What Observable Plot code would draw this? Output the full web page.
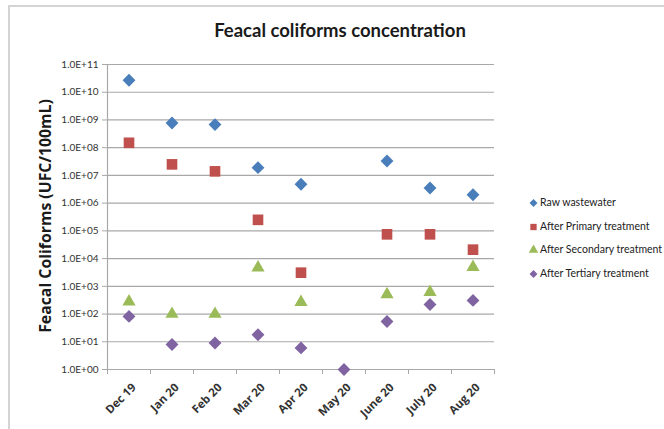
<!DOCTYPE html>
<html>
<head>
<meta charset="utf-8">
<script src="https://cdn.jsdelivr.net/npm/d3@7"></script>
<script src="https://cdn.jsdelivr.net/npm/@observablehq/plot@0.6"></script>
<style>
  html, body { margin: 0; padding: 0; background: #fff; }
  #wrap { position: relative; width: 664px; height: 429px; overflow: hidden; font-family: Lato, "Liberation Sans", sans-serif; }
  #frame { position: absolute; left: 8px; top: 5px; width: 700px; height: 500px; border-top: 2px solid #d4d4d4; border-left: 2px solid #d4d4d4; }
  #chart { position: absolute; left: 0; top: 0; }
  #title { position: absolute; left: 0; width: 680px; top: 19px; text-align: center; font-weight: bold; font-size: 18.5px; color: #1a1a1a; }
  #ylabel { position: absolute; left: 45px; top: 216px; transform: translate(-50%, -50%) rotate(-90deg); white-space: nowrap; font-family: "Open Sans", sans-serif; font-weight: bold; font-size: 15.8px; color: #1a1a1a; }
  #legend { position: absolute; left: 529px; top: 196px; font-size: 10.5px; color: #222; }
  #legend .row { height: 23.7px; display: flex; align-items: flex-start; }
  #legend svg { margin-right: 2px; margin-top: 2px; }
</style>
</head>
<body>
<div id="wrap">
  <div id="frame"></div>
  <div id="chart"></div>
  <div id="title">Feacal coliforms concentration</div>
  <div id="ylabel">Feacal Coliforms (UFC/100mL)</div>
  <div id="legend"></div>
</div>
<script>
const categories = ["Dec 19", "Jan 20", "Feb 20", "Mar 20", "Apr 20", "May 20", "June 20", "July 20", "Aug 20"];
const rawWastewater = [2.7e10, 7.8e8, 6.8e8, 1.9e7, 4.8e6, null, 3.3e7, 3.5e6, 2.0e6];
const afterPrimary = [1.5e8, 2.5e7, 1.4e7, 2.5e5, 3.1e3, null, 7.5e4, 7.5e4, 2.1e4];
const afterSecondary = [280, 100, 100, 4.7e3, 270, null, 510, 620, 4.9e3];
const afterTertiary = [82, 8, 9, 18, 6, 1, 54, 220, 310];
const yTicks = [1, 1e1, 1e2, 1e3, 1e4, 1e5, 1e6, 1e7, 1e8, 1e9, 1e10, 1e11];

const seriesDefs = [
  {name: "Raw wastewater", values: rawWastewater, color: "#4a7ebb", symbol: "diamond2", r: 5.8},
  {name: "After Primary treatment", values: afterPrimary, color: "#c0504d", symbol: "square", r: 6.0},
  {name: "After Secondary treatment", values: afterSecondary, color: "#9bbb59", symbol: "triangle", r: 4.9},
  {name: "After Tertiary treatment", values: afterTertiary, color: "#8064a2", symbol: "diamond2", r: 5.8}
];

const centers = categories.map((c, i) => i + 0.5);
const edges = d3.range(categories.length + 1);

const marks = [
  Plot.ruleY(yTicks, {stroke: "#a8a8a8", strokeWidth: 1.2}),
  Plot.ruleX([0], {stroke: "#a8a8a8", strokeWidth: 1.2}),
  Plot.axisY(yTicks, {
    tickSize: 5, stroke: "#a8a8a8", tickPadding: 4,
    tickFormat: d => "1.0E+" + String(Math.round(Math.log10(d))).padStart(2, "0"),
    fontSize: 10, fill: "#333", label: null
  }),
  Plot.axisX(edges, {tickSize: 5, stroke: "#a8a8a8", tickFormat: () => "", label: null}),
  Plot.axisX(centers, {
    tickSize: 0, tickRotate: -45, tickPadding: 9, dx: 5, dy: 7,
    tickFormat: d => categories[Math.round(d - 0.5)],
    fontSize: 11.5, fontWeight: "bold", fontFamily: "'Open Sans', sans-serif", fill: "#333", label: null
  })
];

for (const s of seriesDefs) {
  const data = s.values.map((v, i) => ({x: i + 0.5, y: v})).filter(d => d.y != null);
  marks.push(Plot.dot(data, {x: "x", y: "y", symbol: () => s.symbol, fill: s.color, stroke: "none", r: s.r}));
}

const chart = Plot.plot({
  width: 664,
  height: 429,
  marginLeft: 107,
  marginRight: 170,
  marginTop: 64,
  marginBottom: 60,
  style: {fontFamily: "Lato, 'Liberation Sans', sans-serif", background: "transparent", overflow: "visible"},
  x: {type: "linear", domain: [0, categories.length], axis: null},
  y: {type: "log", domain: [1, 1e11], axis: null},
  symbol: {type: "identity"},
  marks
});
document.getElementById("chart").appendChild(chart);

const legend = document.getElementById("legend");
for (const s of seriesDefs) {
  const row = document.createElement("div");
  row.className = "row";
  const sym = d3.create("svg").attr("width", 9).attr("height", 10);
  const typ = {diamond2: d3.symbolDiamond2, square: d3.symbolSquare, triangle: d3.symbolTriangle}[s.symbol];
  sym.append("path").attr("transform", "translate(4.5,5)").attr("d", d3.symbol(typ, 40)()).attr("fill", s.color);
  row.appendChild(sym.node());
  const t = document.createElement("span");
  t.textContent = s.name;
  row.appendChild(t);
  legend.appendChild(row);
}
</script>
</body>
</html>
